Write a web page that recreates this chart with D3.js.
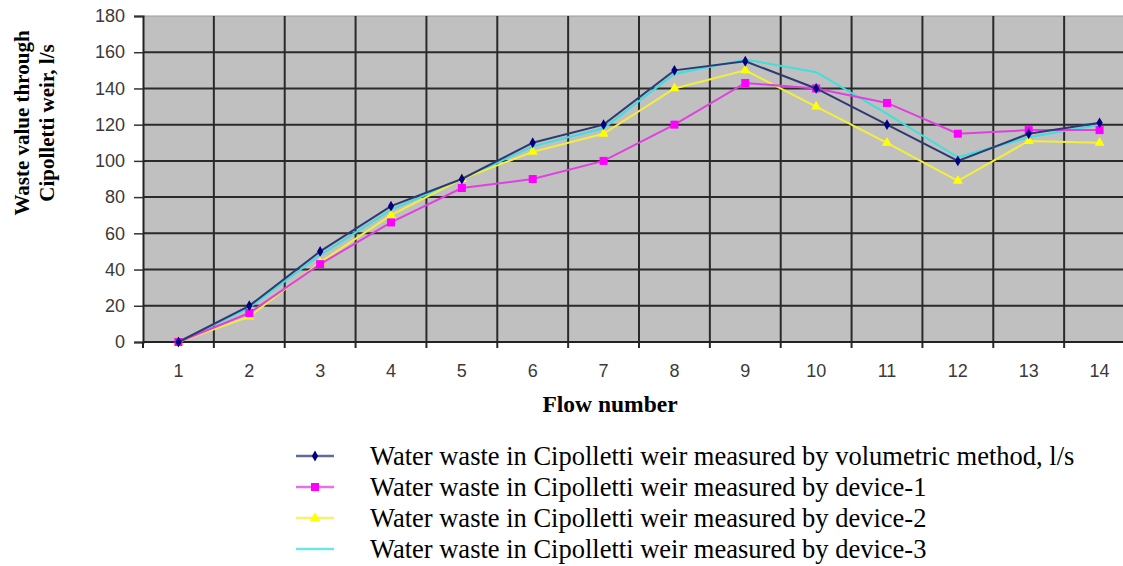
<!DOCTYPE html>
<html><head><meta charset="utf-8">
<script src="https://cdn.jsdelivr.net/npm/d3@7/dist/d3.min.js"></script>
<style>body{margin:0;background:#fff;} svg{display:block;}</style>
</head><body>
<svg id="c" width="1123" height="566"></svg>
<script>
const categories = [1,2,3,4,5,6,7,8,9,10,11,12,13,14];
const volumetric = [0,20,50,75,90,110,120,150,155,140,120,100,115,121];
const device1 = [0,16,43,66,85,90,100,120,143,140,132,115,117,117];
const device2 = [0,14,44,70,90,105,115,140,150,130,110,89,111,110];
const device3 = [0,19,48,73,90,108,118,148,156,149,126,102,113,120];
const yTicks = [0,20,40,60,80,100,120,140,160,180];
const seriesNames = [
  "Water waste in Cipolletti weir measured by volumetric method, l/s",
  "Water waste in Cipolletti weir measured by device-1",
  "Water waste in Cipolletti weir measured by device-2",
  "Water waste in Cipolletti weir measured by device-3"
];
const seriesColors = ["#2d3a74","#e040e0","#f2ee3c","#40dede"];
const markerColors = ["#000080","#ff00ff","#ffff00","#00e0ff"];
const markers = ["diamond","square","triangle","x"];

const svg = d3.select("#c");
const L = 143, R = 1135, T = 16, B = 342;
const x = d3.scaleBand().domain(categories).range([L, R]);
const y = d3.scaleLinear().domain([0,180]).range([B, T]);

svg.append("rect").attr("x",L).attr("y",T).attr("width",R-L).attr("height",B-T).attr("fill","#c0c0c0");

// horizontal grid
svg.append("g").selectAll("line").data(yTicks.slice(1)).join("line")
  .attr("x1",L).attr("x2",R).attr("y1",d=>y(d)).attr("y2",d=>y(d))
  .attr("stroke",d=>d===180?"#9a9a9a":"#2a2a2a").attr("stroke-width",d=>d===180?1:2);
// vertical grid
const vlines = categories.map(c=>x(c)).concat([R]);
svg.append("g").selectAll("line").data(vlines.slice(1)).join("line")
  .attr("x1",d=>d).attr("x2",d=>d).attr("y1",T).attr("y2",B+6)
  .attr("stroke","#2a2a2a").attr("stroke-width",2);

// y axis
const yAxis = d3.axisLeft(y).tickValues(yTicks).tickSize(9).tickPadding(9);
const gy = svg.append("g").attr("transform",`translate(${L},0)`).call(yAxis);
gy.select(".domain").attr("stroke","#222").attr("stroke-width",2);
gy.selectAll(".tick line").attr("stroke","#333").attr("stroke-width",1.5);
gy.selectAll("text").attr("font-family","Liberation Sans, Arial, sans-serif").attr("font-size",18).attr("fill","#3a3a3a");

// x axis
svg.append("line").attr("x1",L).attr("x2",R).attr("y1",B).attr("y2",B).attr("stroke","#222").attr("stroke-width",2);
svg.append("line").attr("x1",L).attr("x2",L).attr("y1",B).attr("y2",B+6).attr("stroke","#222").attr("stroke-width",2);
svg.append("g").selectAll("text").data(categories).join("text")
  .attr("x",d=>x(d)+x.bandwidth()/2).attr("y",377).attr("text-anchor","middle")
  .attr("font-family","Liberation Sans, Arial, sans-serif").attr("font-size",18).attr("fill","#3a3a3a")
  .text(d=>d);

// titles
svg.append("text").attr("x",610).attr("y",412).attr("text-anchor","middle")
  .attr("font-family","Liberation Serif, Times New Roman, serif").attr("font-weight","bold").attr("font-size",23.5)
  .text("Flow number");
const yt = svg.append("text").attr("transform","translate(0,123) rotate(-90)").attr("text-anchor","middle")
  .attr("font-family","Liberation Serif, Times New Roman, serif").attr("font-weight","bold").attr("font-size",21);
yt.append("tspan").attr("x",0).attr("y",29).text("Waste value through");
yt.append("tspan").attr("x",0).attr("y",54).text("Cipolletti weir, l/s");

// series
const allSeries = [volumetric, device1, device2, device3];
const cx = d=>x(d)+x.bandwidth()/2;
const line = d3.line().x((d,i)=>cx(categories[i])).y(d=>y(d));
function drawMarker(g, type, px, py, col){
  if(type==="diamond") g.append("path").attr("d",d3.symbol(d3.symbolDiamond,34)()).attr("transform",`translate(${px},${py})`).attr("fill",col);
  else if(type==="square") g.append("rect").attr("x",px-4).attr("y",py-4).attr("width",8).attr("height",8).attr("fill",col);
  else if(type==="triangle") g.append("path").attr("d",d3.symbol(d3.symbolTriangle,44)()).attr("transform",`translate(${px},${py})`).attr("fill",col);
  else g.append("path").attr("d",d3.symbol(d3.symbolTimes,44)()).attr("transform",`translate(${px},${py})`).attr("fill",col);
}
const order = [3,2,1,0];
order.forEach(si=>{
  const g = svg.append("g");
  g.append("path").datum(allSeries[si]).attr("d",line).attr("fill","none")
    .attr("stroke",seriesColors[si]).attr("stroke-width",2);
  allSeries[si].forEach((v,i)=>drawMarker(g, markers[si], cx(categories[i]), y(v), markerColors[si]));
});

// legend
const lg = svg.append("g");
seriesNames.forEach((n,i)=>{
  const ly = 456 + i*31;
  lg.append("line").attr("x1",296).attr("x2",334).attr("y1",ly).attr("y2",ly).attr("stroke",seriesColors[i]).attr("stroke-width",2.5).attr("opacity",0.75);
  drawMarker(lg, markers[i], 315, ly, markerColors[i]);
  lg.append("text").attr("x",370).attr("y",ly+8.5).attr("font-family","Liberation Serif, Times New Roman, serif").attr("font-size",26.5).text(n);
});
</script>
</body></html>
